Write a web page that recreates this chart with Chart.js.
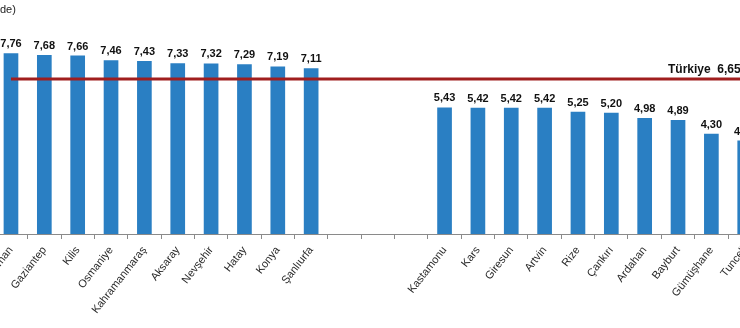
<!DOCTYPE html>
<html>
<head>
<meta charset="utf-8">
<script src="https://cdn.jsdelivr.net/npm/chart.js@4.4.1/dist/chart.umd.min.js"></script>
<style>
  html, body { margin: 0; padding: 0; background: #fff; }
  #wrap { position: relative; width: 740px; height: 328px; overflow: hidden; }
  #c { position: absolute; left: -40px; top: 0; }
</style>
</head>
<body>
<div id="wrap"><canvas id="c" width="820" height="328"></canvas></div>
<script>
// Data
const provinces = ["Karaman", "Gaziantep", "Kilis", "Osmaniye", "Kahramanmaraş", "Aksaray", "Nevşehir", "Hatay", "Konya", "Şanlıurfa",
                   "", "", "",
                   "Kastamonu", "Kars", "Giresun", "Artvin", "Rize", "Çankırı", "Ardahan", "Bayburt", "Gümüşhane", "Tunceli"];
const values = [7.76, 7.68, 7.66, 7.46, 7.43, 7.33, 7.32, 7.29, 7.19, 7.11,
                null, null, null,
                5.43, 5.42, 5.42, 5.42, 5.25, 5.20, 4.98, 4.89, 4.30, 4.01];
const turkiyeValue = 6.65;
const turkiyeLabel = "Türkiye";
const titleText = "de)";

const OFFSET = 40; // canvas shifted left by this many px (reference is cropped)

const labelPlugin = {
  id: 'labels',
  afterDatasetsDraw(chart) {
    const ctx = chart.ctx;
    const meta = chart.getDatasetMeta(0);
    ctx.save();
    ctx.fillStyle = '#111';
    ctx.font = 'bold 11px "Liberation Sans", Arial, sans-serif';
    ctx.textAlign = 'center';
    ctx.textBaseline = 'alphabetic';
    meta.data.forEach((el, i) => {
      const v = values[i];
      if (v === null) return;
      ctx.fillText(v.toFixed(2).replace('.', ','), el.x, el.y - 6);
    });
    // Türkiye label
    const y = chart.scales.y.getPixelForValue(turkiyeValue);
    ctx.font = 'bold 12px "Liberation Sans", Arial, sans-serif';
    ctx.textAlign = 'left';
    ctx.fillText(turkiyeLabel + '  ' + turkiyeValue.toFixed(2).replace('.', ','), OFFSET + 668, y - 6);
    // title fragment
    ctx.font = '11px "Liberation Sans", Arial, sans-serif';
    ctx.fillStyle = '#222';
    ctx.fillText(titleText, OFFSET + 0, 13);
    ctx.restore();
  }
};

new Chart(document.getElementById('c'), {
  data: {
    labels: provinces,
    datasets: [
      {
        type: 'bar',
        data: values,
        backgroundColor: '#2a7fc3',
        categoryPercentage: 1,
        barPercentage: 0.44,
        order: 1
      },
      {
        type: 'line',
        data: provinces.map(() => turkiyeValue),
        borderColor: '#a01e1e',
        borderWidth: 3,
        pointRadius: 0,
        fill: false,
        order: 0
      }
    ]
  },
  options: {
    responsive: false,
    animation: false,
    devicePixelRatio: 1,
    layout: { padding: { left: 34.3, right: 18.6, top: 1, bottom: 0 } },
    plugins: { legend: { display: false }, tooltip: { enabled: false } },
    scales: {
      x: {
        offset: true,
        grid: { offset: true, drawOnChartArea: false, drawTicks: true, tickLength: 5, color: '#8a8a8a' },
        border: { color: '#8a8a8a', width: 1 },
        ticks: {
          autoSkip: false,
          minRotation: 52,
          maxRotation: 52,
          padding: 5,
          color: '#2a2a2a',
          font: { family: '"Liberation Sans", Arial, sans-serif', size: 11 }
        },
        afterFit(s) { s.height = 94; s.paddingLeft = 0; s.paddingRight = 0; }
      },
      y: {
        display: false,
        min: 0,
        max: 10
      }
    }
  },
  plugins: [labelPlugin]
});
</script>
</body>
</html>
